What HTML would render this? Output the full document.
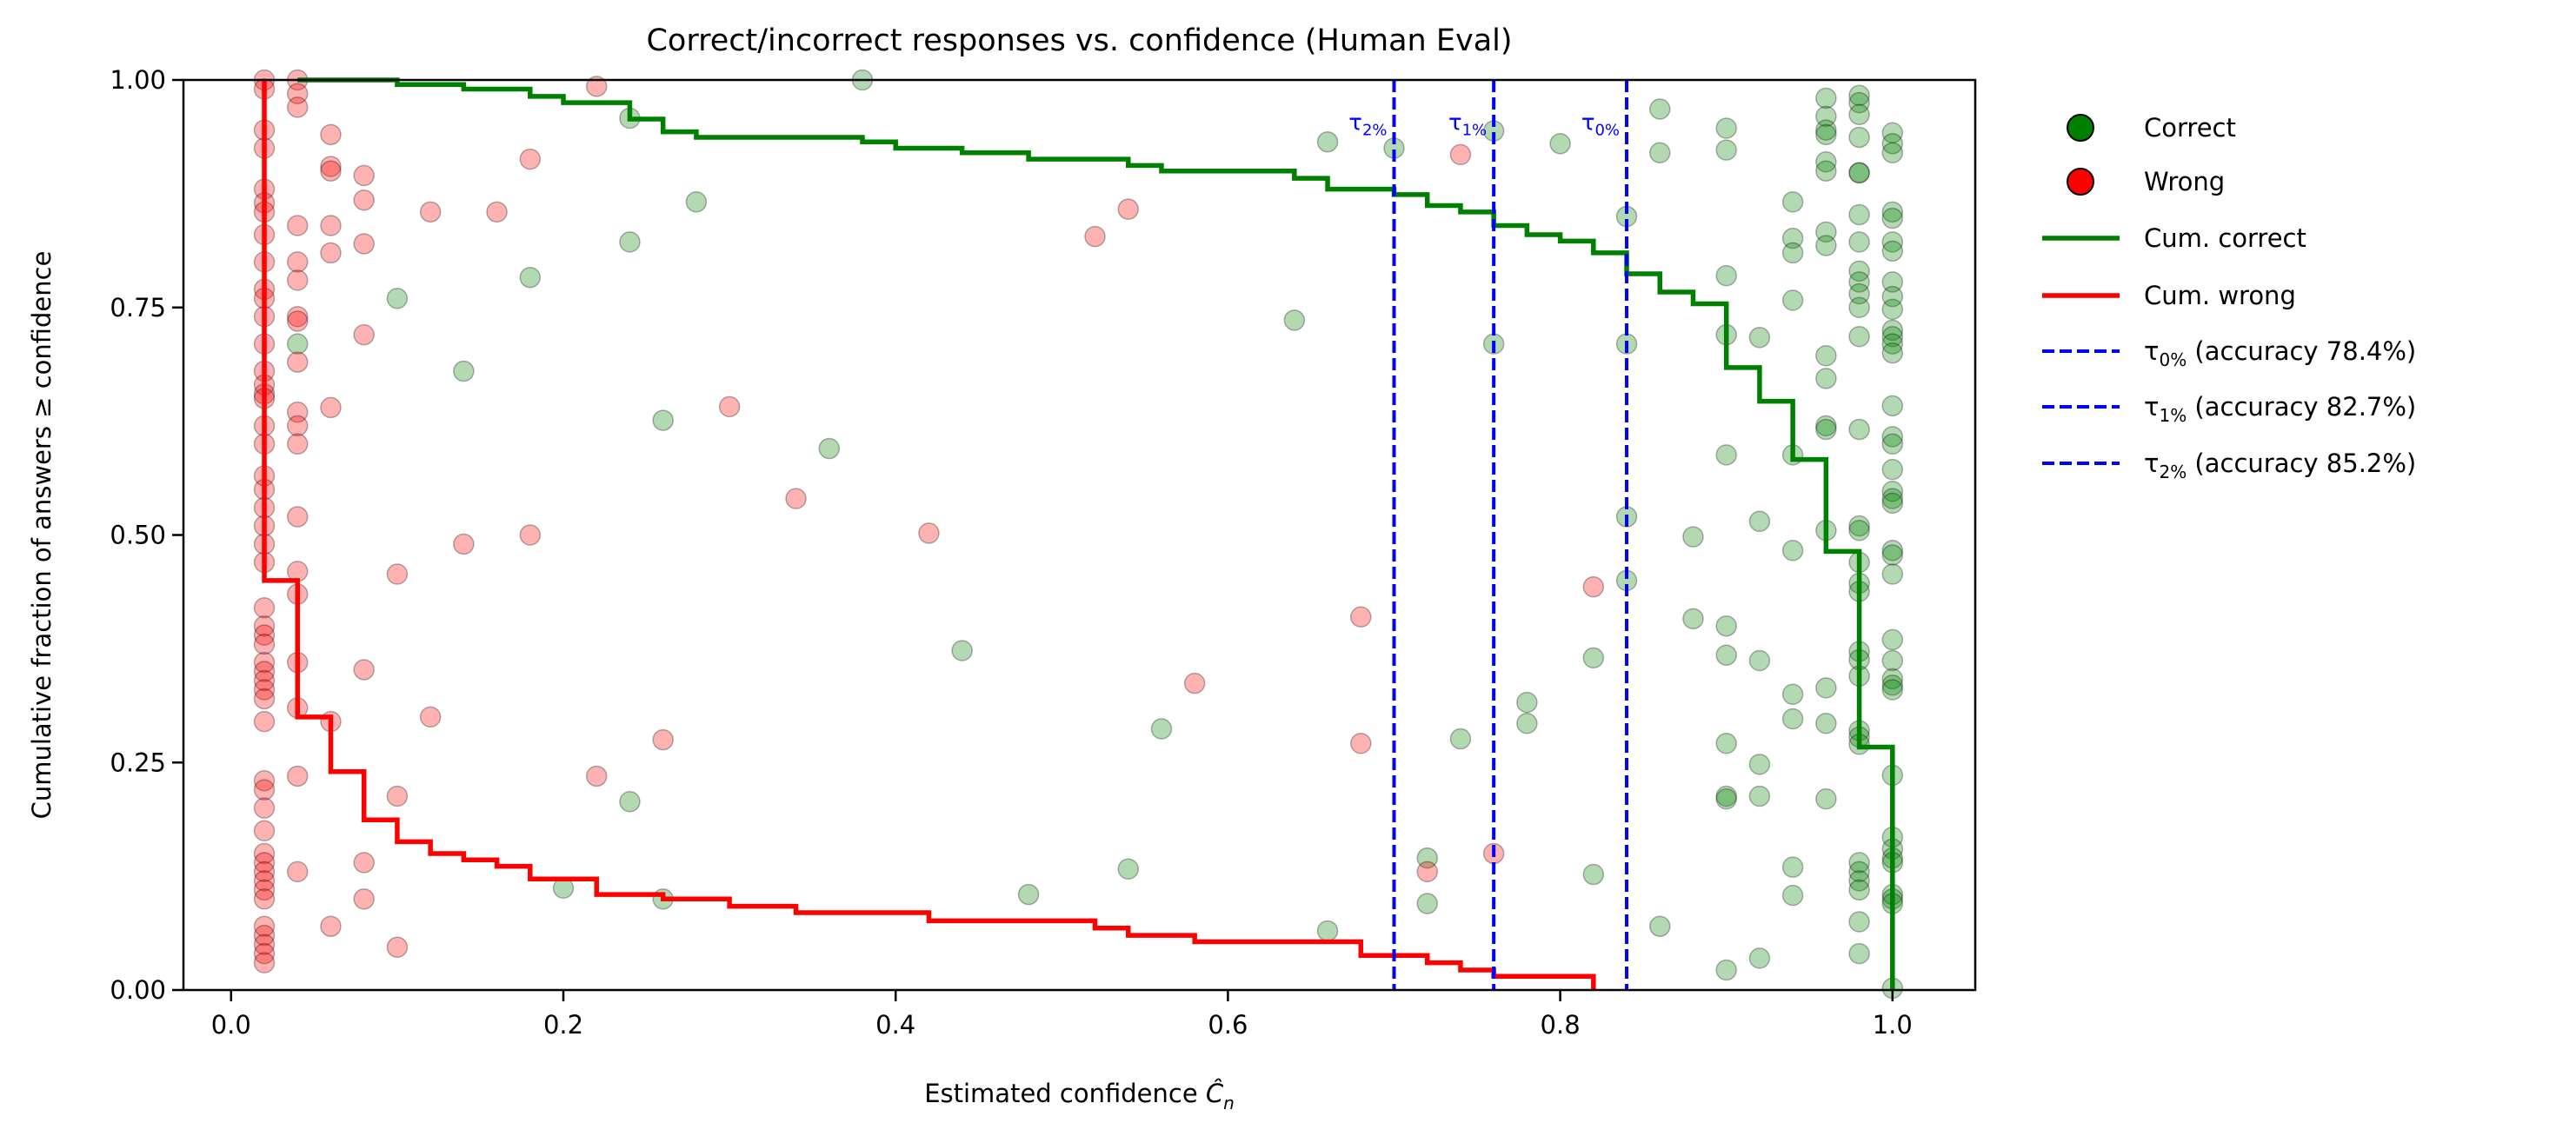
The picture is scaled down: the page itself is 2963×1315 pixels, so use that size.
<!DOCTYPE html>
<html><head><meta charset="utf-8"><style>
html,body{margin:0;padding:0;background:#fff;}
svg{display:block;font-family:"DejaVu Sans","Liberation Sans",sans-serif;}
</style></head><body>
<svg id="chart" width="2963" height="1315" viewBox="0 0 2963 1315" xmlns="http://www.w3.org/2000/svg">
<rect width="2963" height="1315" fill="#fff"/>
<g id="plot"></g>
</svg>
<script>
const correctX = [0.04,0.10,0.14,0.18,0.20,0.24,0.24,0.24,0.26,0.26,0.28,0.36,0.38,0.44,0.48,0.54,0.56,0.64,0.66,0.66,0.70,0.72,0.72,0.74,0.76,0.76,0.78,0.78,0.80,0.82,0.82,0.84,0.84,0.84,0.84,0.86,0.86,0.86,0.88,0.88,
0.90,0.90,0.90,0.90,0.90,0.90,0.90,0.90,0.90,0.90,0.90,0.92,0.92,0.92,0.92,0.92,0.92,
0.94,0.94,0.94,0.94,0.94,0.94,0.94,0.94,0.94,0.94,
0.96,0.96,0.96,0.96,0.96,0.96,0.96,0.96,0.96,0.96,0.96,0.96,0.96,0.96,0.96,0.96,
0.98,0.98,0.98,0.98,0.98,0.98,0.98,0.98,0.98,0.98,0.98,0.98,0.98,0.98,0.98,0.98,0.98,0.98,0.98,0.98,0.98,0.98,0.98,0.98,0.98,0.98,0.98,0.98,0.98,0.98,0.98,
1,1,1,1,1,1,1,1,1,1,1,1,1,1,1,1,1,1,1,1,1,1,1,1,1,1,1,1,1,1,1,1,1,1,1,1,1,1];
const correctY = [0.71,0.76,0.68,0.783,0.112,0.958,0.822,0.207,0.626,0.1,0.866,0.595,1.0,0.373,0.105,0.133,0.287,0.736,0.932,0.065,0.925,0.145,0.095,0.276,0.944,0.71,0.316,0.293,0.93,0.365,0.127,0.85,0.71,0.52,0.45,0.968,0.92,0.07,0.498,0.408,
0.947,0.923,0.785,0.72,0.588,0.4,0.368,0.271,0.213,0.21,0.022,0.717,0.515,0.362,0.248,0.213,0.035,
0.866,0.826,0.81,0.758,0.588,0.483,0.325,0.298,0.135,0.104,
0.98,0.96,0.945,0.94,0.91,0.9,0.833,0.818,0.697,0.672,0.62,0.616,0.505,0.332,0.293,0.21,
0.983,0.975,0.962,0.937,0.898,0.898,0.852,0.822,0.79,0.778,0.765,0.75,0.718,0.616,0.51,0.505,0.47,0.447,0.438,0.372,0.363,0.345,0.285,0.278,0.27,0.14,0.13,0.12,0.11,0.075,0.04,
0.942,0.93,0.92,0.855,0.848,0.822,0.812,0.778,0.762,0.748,0.725,0.718,0.71,0.7,0.642,0.608,0.6,0.572,0.548,0.54,0.535,0.483,0.478,0.457,0.385,0.362,0.342,0.335,0.33,0.236,0.168,0.155,0.145,0.14,0.105,0.1,0.095,0.002];
const wrongX = [0.02,0.02,0.02,0.02,0.02,0.02,0.02,0.02,0.02,0.02,0.02,0.02,0.02,0.02,0.02,0.02,0.02,0.02,0.02,0.02,0.02,0.02,0.02,0.02,0.02,0.02,0.02,0.02,0.02,0.02,0.02,0.02,0.02,0.02,0.02,0.02,0.02,0.02,0.02,0.02,0.02,0.02,0.02,0.02,0.02,0.02,0.02,0.02,0.02,0.02,
0.04,0.04,0.04,0.04,0.04,0.04,0.04,0.04,0.04,0.04,0.04,0.04,0.04,0.04,0.04,0.04,0.04,0.04,0.04,
0.06,0.06,0.06,0.06,0.06,0.06,0.06,0.06,0.08,0.08,0.08,0.08,0.08,0.08,0.08,
0.10,0.10,0.10,0.12,0.12,0.14,0.16,0.18,0.18,0.22,0.22,0.26,0.30,0.34,0.42,0.52,0.54,0.58,0.68,0.68,0.72,0.74,0.76,0.82];
const wrongY = [1.0,0.99,0.945,0.925,0.88,0.865,0.855,0.83,0.8,0.77,0.76,0.74,0.71,0.68,0.665,0.655,0.65,0.62,0.6,0.565,0.55,0.53,0.51,0.49,0.47,0.42,0.40,0.39,0.38,0.36,0.35,0.34,0.33,0.32,0.295,0.23,0.22,0.2,0.175,0.15,0.14,0.13,0.12,0.11,0.1,0.07,0.06,0.05,0.04,0.03,
1.0,0.985,0.97,0.84,0.8,0.78,0.74,0.735,0.69,0.635,0.62,0.6,0.52,0.46,0.435,0.36,0.31,0.235,0.13,
0.94,0.905,0.9,0.84,0.81,0.64,0.295,0.07,0.895,0.868,0.82,0.72,0.352,0.14,0.1,
0.457,0.213,0.047,0.855,0.3,0.49,0.855,0.913,0.5,0.993,0.235,0.275,0.641,0.54,0.502,0.828,0.858,0.337,0.41,0.271,0.13,0.918,0.15,0.443];
const cumCorrectX = [0.04,0.10,0.14,0.18,0.20,0.24,0.26,0.28,0.38,0.40,0.44,0.48,0.54,0.56,0.64,0.66,0.70,0.72,0.74,0.76,0.78,0.80,0.82,0.84,0.86,0.88,0.90,0.92,0.94,0.96,0.98,1.0,1.0];
const cumCorrectY = [1.0,0.995,0.99,0.982,0.975,0.957,0.943,0.937,0.932,0.925,0.92,0.913,0.906,0.9,0.892,0.88,0.874,0.862,0.855,0.84,0.83,0.823,0.81,0.787,0.767,0.754,0.684,0.647,0.583,0.482,0.267,0.267,0.0];
const cumWrongX = [0.02,0.02,0.04,0.06,0.08,0.10,0.12,0.14,0.16,0.18,0.22,0.26,0.30,0.34,0.42,0.52,0.54,0.58,0.68,0.72,0.74,0.76,0.82];
const cumWrongY = [1.0,0.45,0.30,0.24,0.187,0.163,0.15,0.143,0.136,0.122,0.105,0.1,0.092,0.085,0.076,0.068,0.06,0.053,0.038,0.03,0.022,0.015,0.0];
const tauX = [0.84,0.76,0.70];
const tauLabels = ["0%","1%","2%"];
const tauAcc = ["78.4%","82.7%","85.2%"];
const xTicks = [0.0,0.2,0.4,0.6,0.8,1.0];
const xTickLabels = ["0.0","0.2","0.4","0.6","0.8","1.0"];
const yTicks = [0,0.25,0.5,0.75,1.0];
const yTickLabels = ["0.00","0.25","0.50","0.75","1.00"];

const L=211,R=2272,T=92,B=1139;
const xs = v => 265.8 + v*1911;
const ys = v => B - v*(B-T);
const NS="http://www.w3.org/2000/svg";
const g=document.getElementById('plot');
function mk(tag,attrs,parent){const e=document.createElementNS(NS,tag);for(const k in attrs)e.setAttribute(k,attrs[k]);(parent||g).appendChild(e);return e;}

const pts=mk('g',{});


correctX.forEach((x,i)=>{const c=mk('circle',{cx:xs(x),cy:ys(correctY[i]),r:11.5,fill:'rgba(0,128,0,0.3)',stroke:'rgba(0,0,0,0.3)','stroke-width':1.5},pts);

});
wrongX.forEach((x,i)=>{const c=mk('circle',{cx:xs(x),cy:ys(wrongY[i]),r:11.5,fill:'rgba(255,0,0,0.3)',stroke:'rgba(0,0,0,0.3)','stroke-width':1.5},pts);

});

function stepPath(X,Y){let d='M'+xs(X[0])+','+ys(Y[0]);for(let i=1;i<X.length;i++){d+=' H'+xs(X[i])+' V'+ys(Y[i]);}return d;}
const pc=mk('path',{d:stepPath(cumCorrectX,cumCorrectY),fill:'none',stroke:'#008000','stroke-width':5.5});


const pw=mk('path',{d:stepPath(cumWrongX,cumWrongY),fill:'none',stroke:'#ff0000','stroke-width':5.5});



tauX.forEach((t,i)=>{const l=mk('line',{x1:xs(t),x2:xs(t),y1:T,y2:B,stroke:'#0000ff','stroke-width':4,'stroke-dasharray':'14,6'});


const tx=mk('text',{x:xs(t)-8,y:ys(0.945),'text-anchor':'end',fill:'#0000ff','font-size':26});


tx.innerHTML='τ<tspan font-size="18" dy="6">'+tauLabels[i]+'</tspan>';});

const fr=mk('rect',{x:L,y:T,width:R-L,height:B-T,fill:'none',stroke:'#000','stroke-width':2.5});


xTicks.forEach((t,i)=>{mk('line',{x1:xs(t),x2:xs(t),y1:B,y2:B+13,stroke:'#000','stroke-width':2.5});
const tx=mk('text',{x:xs(t),y:B+50,'text-anchor':'middle','font-size':29});
tx.textContent=xTickLabels[i];

});
yTicks.forEach((t,i)=>{mk('line',{x1:L-13,x2:L,y1:ys(t),y2:ys(t),stroke:'#000','stroke-width':2.5});
const tx=mk('text',{x:L-20,y:ys(t)+10,'text-anchor':'end','font-size':29});
tx.textContent=yTickLabels[i];

});

const title=mk('text',{x:(L+R)/2,y:58,'text-anchor':'middle','font-size':35});
title.textContent='Correct/incorrect responses vs. confidence (Human Eval)';


const xl=mk('text',{x:(L+R)/2,y:1268,'text-anchor':'middle','font-size':29});
xl.innerHTML='Estimated confidence <tspan font-style="italic">Ĉ</tspan><tspan font-style="italic" font-size="20" dy="8">n</tspan>';


const yl=mk('text',{x:58,y:(T+B)/2,'text-anchor':'middle','font-size':29,transform:'rotate(-90 58 '+((T+B)/2)+')'});
yl.textContent='Cumulative fraction of answers ≥ confidence';



const lg=mk('g',{});


const rows=[147,209,274,340,404,468,533];
const lx1=2349,lx2=2438,tx0=2466;
function ltext(y,html){const t=mk('text',{x:tx0,y:y+10,'font-size':29},lg);t.innerHTML=html;

return t;}
mk('circle',{cx:2393,cy:rows[0],r:15,fill:'#008000',stroke:'#000','stroke-width':2},lg);ltext(rows[0],'Correct');
mk('circle',{cx:2393,cy:rows[1],r:15,fill:'#ff0000',stroke:'#000','stroke-width':2},lg);ltext(rows[1],'Wrong');
mk('line',{x1:lx1,x2:lx2,y1:rows[2],y2:rows[2],stroke:'#008000','stroke-width':5.5},lg);ltext(rows[2],'Cum. correct');
mk('line',{x1:lx1,x2:lx2,y1:rows[3],y2:rows[3],stroke:'#ff0000','stroke-width':5.5},lg);ltext(rows[3],'Cum. wrong');
tauLabels.forEach((lab,i)=>{const y=rows[4+i];
mk('line',{x1:lx1,x2:lx2,y1:y,y2:y,stroke:'#0000ff','stroke-width':4,'stroke-dasharray':'14,6'},lg);
ltext(y,'τ<tspan font-size="20" dy="7">'+lab+'</tspan><tspan dy="-7"> (accuracy '+tauAcc[i]+')</tspan>');});
</script>
</body></html>
